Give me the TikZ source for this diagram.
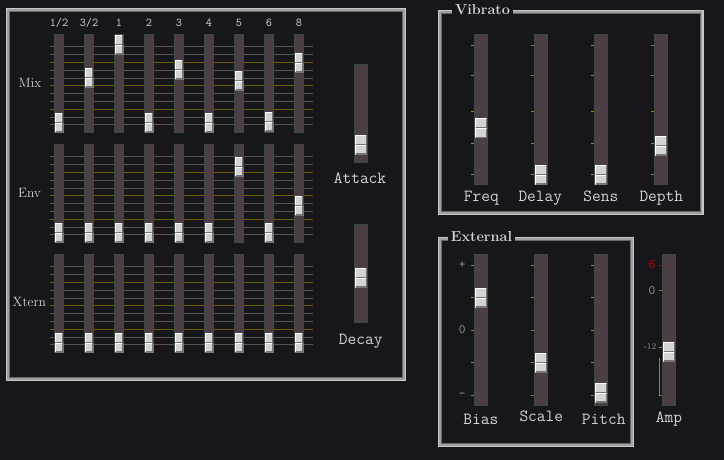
\documentclass[tikz,border=0pt]{standalone}
\usepackage{fontspec}
\definecolor{bg}{HTML}{17161B}
\definecolor{trk}{HTML}{4B3E44}
\definecolor{trkb}{HTML}{3A4A42}
\definecolor{gline}{HTML}{555555}
\definecolor{yline}{HTML}{6E5C00}
\definecolor{gtick}{HTML}{808080}
\definecolor{ytick}{HTML}{9A8600}
\definecolor{txt}{HTML}{D4D4D4}
\definecolor{sclab}{HTML}{9A9A9A}
\definecolor{redlab}{HTML}{B00000}
\definecolor{knobf}{HTML}{D4D4D4}
\definecolor{knobs}{HTML}{767676}
\definecolor{flight}{HTML}{C8C8C8}
\definecolor{fmid}{HTML}{A0A0A0}
\definecolor{fdark}{HTML}{686868}
\newcommand\knobat[3]{%
  \begin{scope}[shift={(#1,#2)}]
    \fill[knobf] (-#3,0) rectangle (#3,20);
    \draw[knobs,line width=1bp] (#3-0.5,0.5) -- (#3-0.5,9.5) -- (-#3+0.5,9.5);
    \draw[knobs,line width=1.6bp] (#3-0.5,10.5) -- (#3-0.5,19.2) -- (-#3+0.5,19.2);
    \draw[white,line width=1.2bp] (-#3+0.6,9) -- (-#3+0.6,0.6) -- (#3-1,0.6);
    \draw[white,line width=1.2bp] (-#3+0.6,19) -- (-#3+0.6,10.6) -- (#3-1,10.6);
  \end{scope}}
\newcommand\panelframe[4]{%
  \draw[fmid,line width=4bp] (#1+2,#2+2) rectangle (#3-2,#4-2);
  \draw[flight,line width=1.2bp] (#1+0.6,#2+0.6) rectangle (#3-0.6,#4-0.6);
  \draw[fdark,line width=1bp] (#1+3.5,#2+3.5) rectangle (#3-3.5,#4-3.5);}
\begin{document}
\begin{tikzpicture}[x=1bp,y=-1bp,
  track/.style={fill=trk,draw=trkb,line width=1bp},
  monolab/.style={text=txt,font=\ttfamily\fontsize{17}{17}\selectfont,anchor=base,inner sep=0pt},
  toplab/.style={text=txt,font=\ttfamily\fontsize{12}{12}\selectfont,anchor=base,inner sep=0pt},
  rowlab/.style={text=txt,font=\fontsize{13.5}{13.5}\selectfont,anchor=base,inner sep=0pt},
  titlelab/.style={text=txt,font=\bfseries\fontsize{14.5}{14.5}\selectfont,anchor=base,fill=bg,inner xsep=3bp,inner ysep=1bp},
  scalelab/.style={text=sclab,font=\ttfamily\fontsize{13}{13}\selectfont,inner sep=0pt},
  hline/.style={gline,line width=1bp},
  yhline/.style={yline,line width=1bp}]
\useasboundingbox (0,0) rectangle (724,460);
\fill[bg] (0,0) rectangle (724,460);

% ---------- left panel ----------
\panelframe{6}{8}{406}{381}
\foreach \o in {0,110,220}{
  \foreach \y in {46.5,54.5,70.5,78.5,93.5,101.5,117.5,124.5}{\draw[hline] (50,\y+\o) -- (313,\y+\o);}
  \foreach \y in {62.5,85.5,109.5}{\draw[yhline] (50,\y+\o) -- (313,\y+\o);}
  \foreach \i in {0,...,8}{\draw[track] (59+30*\i-4.5,34.5+\o) rectangle (59+30*\i+4.5,132.5+\o);}
}
\foreach \t [count=\i from 0] in {1/2,3/2,1,2,3,4,5,6,8}{
  \node[toplab] (top\i) at (59+30*\i,26.7) {\t};}
\foreach \y [count=\i from 0] in {113,68,34.7,113,60,113,71,112,53}{\knobat{59+30*\i}{\y}{4.3}}
\foreach \y [count=\i from 0] in {222.7,222.7,222.7,222.7,222.7,222.7,156.7,222.7,196}{\knobat{59+30*\i}{\y}{4.3}}
\foreach \i in {0,...,8}{\knobat{59+30*\i}{332.7}{4.3}}
\node[rowlab] (mix) at (30,87.3) {Mix};
\node[rowlab] (env) at (29.5,197.3) {Env};
\node[rowlab] (xtern) at (29.3,306.7) {Xtern};

\draw[track] (354.5,64.5) rectangle (367.5,162.5);
\knobat{361}{135}{5.8}
\node[monolab] (attack) at (360,184) {Attack};
\draw[track] (354.5,224.5) rectangle (367.5,322.5);
\knobat{361}{268}{5.8}
\node[monolab] (decay) at (360.8,344.3) {Decay};

% ---------- Vibrato ----------
\panelframe{438}{10}{703.5}{215}
\node[titlelab] (vibrato) at (482.5,15) {Vibrato};
\foreach \i in {0,...,3}{
  \draw[track] (481+60*\i-6.5,34.5) rectangle (481+60*\i+6.5,184.5);
  \foreach \y in {45.5,75.5,143.5,174.5}{\draw[gtick,line width=1bp] (481+60*\i-10,\y) -- (481+60*\i-7,\y);}
  \draw[ytick,line width=1bp] (481+60*\i-10,111.5) -- (481+60*\i-7,111.5);
}
\knobat{481}{118.3}{5.8}
\knobat{541}{165}{5.8}
\knobat{601}{165}{5.8}
\knobat{661}{136}{5.8}
\node[monolab] (freq) at (481.3,202) {Freq};
\node[monolab] (delay) at (540.3,202) {Delay};
\node[monolab] (sens) at (600.8,202) {Sens};
\node[monolab] (depth) at (661.3,202) {Depth};

% ---------- External ----------
\panelframe{438}{236.7}{634}{447.3}
\node[titlelab] (external) at (481.5,241.7) {External};
\foreach \i in {0,...,2}{
  \draw[track] (481+60*\i-6.5,254.5) rectangle (481+60*\i+6.5,405.5);
  \foreach \y in {265.5,297.5,362.5,395.5}{\draw[gtick,line width=1bp] (481+60*\i-10,\y) -- (481+60*\i-7,\y);}
  \draw[ytick,line width=1bp] (481+60*\i-10,330.5) -- (481+60*\i-7,330.5);
}
\node[scalelab] (plus) at (462.3,265) {+};
\node[scalelab] (zero) at (462.3,330) {0};
\node[scalelab] (minus) at (462.3,395) {-};
\knobat{481}{287.7}{5.8}
\knobat{541}{352.7}{5.8}
\knobat{601}{383}{5.8}
\node[monolab] (bias) at (480.8,424) {Bias};
\node[monolab] (scale) at (541.3,421.7) {Scale};
\node[monolab] (pitch) at (603.7,424) {Pitch};

% ---------- Amp ----------
\draw[track] (662.5,254.5) rectangle (675.5,405.5);
\draw[redlab,line width=1bp] (659,265.5) -- (662,265.5);
\draw[gtick,line width=1bp] (659,290.5) -- (662,290.5);
\draw[gtick,line width=1bp] (659,347.5) -- (662,347.5);
\draw[gtick,line width=1bp] (659.5,358) -- (659.5,395.5) -- (662,395.5);
\node[scalelab,text=redlab,font=\ttfamily\bfseries\fontsize{13}{13}\selectfont] (six) at (652,265) {6};
\node[scalelab] (ampzero) at (652,290.7) {0};
\node[scalelab,font=\fontsize{9}{9}\selectfont] (m12) at (650,347) {-12};
\knobat{669}{341.7}{5.8}
\node[monolab] (amp) at (669,422.7) {Amp};
\end{tikzpicture}
\end{document}
